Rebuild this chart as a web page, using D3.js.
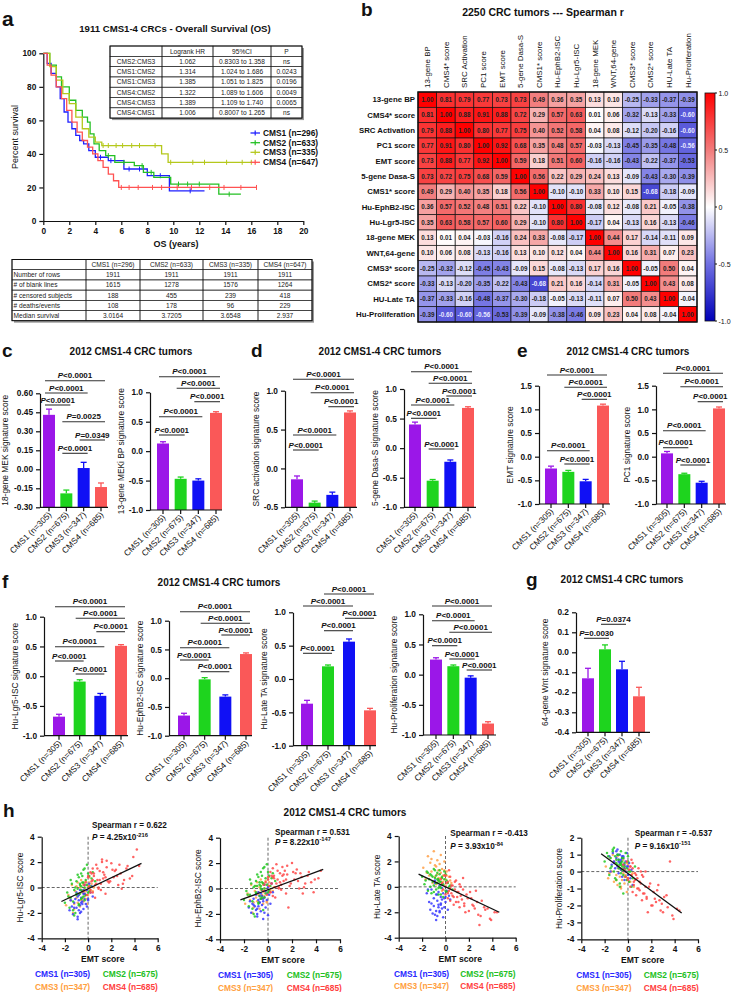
<!DOCTYPE html>
<html>
<head>
<meta charset="utf-8">
<script src="https://cdn.jsdelivr.net/npm/d3@7"></script>
<style>
body { margin: 0; background: #fff; }
svg { font-family: Arial, "Liberation Sans", sans-serif; }
</style>
</head>
<body>
<svg id="fig" width="733" height="992"></svg>
<script>
// ---------------- DATA ----------------

// a: overall survival (time in years, percent surviving)
var survNames = ["CMS1 (n=296)", "CMS2 (n=633)", "CMS3 (n=335)", "CMS4 (n=647)"];
var survTimeCMS1 = [0, 0.3, 0.6, 1.0, 1.3, 1.6, 1.9, 2.2, 2.5, 2.8, 3.1, 3.5, 4.0, 4.6, 5.0, 6.2, 8.0, 9.7, 12.4];
var survPctCMS1  = [100, 94, 88, 80, 73, 65, 59, 55, 51, 48, 46, 42, 38, 38, 36, 31, 27, 18, 18];
var survTimeCMS2 = [0, 0.5, 1.0, 1.4, 2.0, 2.5, 3.0, 3.4, 3.6, 3.9, 4.3, 4.8, 5.5, 7.0, 7.7, 8.5, 9.8, 13.5, 15.2];
var survPctCMS2  = [100, 93, 86, 80, 72, 66, 62, 59, 52, 46, 42, 39, 35, 33, 29, 26, 22, 16, 16];
var survTimeCMS3 = [0, 0.5, 1.0, 1.5, 2.0, 2.5, 3.0, 3.5, 4.0, 4.5, 9.1, 9.6, 16.0];
var survPctCMS3  = [100, 92, 84, 76, 70, 62, 55, 50, 47, 45, 40, 35, 35];
var survTimeCMS4 = [0, 0.3, 0.6, 1.0, 1.4, 1.8, 2.2, 2.6, 3.0, 3.4, 3.8, 4.2, 4.6, 5.0, 5.4, 5.8, 16.4];
var survPctCMS4  = [100, 93, 87, 80, 73, 66, 59, 53, 48, 44, 40, 36, 32, 28, 24, 20, 20];
var censorCMS1 = [4.4, 5.2, 6.6, 7.4, 9.0, 11.3];
var censorCMS2 = [5.0, 6.2, 7.6, 8.3, 10.4, 11.1, 12.0, 14.3];
var censorCMS3 = [4.6, 5.0, 5.6, 6.1, 6.8, 7.4, 8.6, 9.8, 11.5, 12.4, 14.1, 15.3, 16.0];
var censorCMS4 = [6.0, 6.6, 7.3, 8.4, 9.1, 10.3, 11.4, 12.8, 13.9, 15.2, 16.4];
var survXTicks = [0, 2, 4, 6, 8, 10, 12, 14, 16, 18, 20];
var survYTicks = [0, 20, 40, 60, 80, 100];

var hrTable = [
  ["", "Logrank HR", "95%CI", "P"],
  ["CMS2:CMS3", "1.062", "0.8303 to 1.358", "ns"],
  ["CMS1:CMS2", "1.314", "1.024 to 1.686", "0.0243"],
  ["CMS1:CMS3", "1.385", "1.051 to 1.825", "0.0196"],
  ["CMS4:CMS2", "1.322", "1.089 to 1.606", "0.0049"],
  ["CMS4:CMS3", "1.389", "1.109 to 1.740", "0.0065"],
  ["CMS4:CMS1", "1.006", "0.8007 to 1.265", "ns"]
];
var summaryTable = [
  ["", "CMS1 (n=296)", "CMS2 (n=633)", "CMS3 (n=335)", "CMS4 (n=647)"],
  ["Number of rows", "1911", "1911", "1911", "1911"],
  ["# of blank lines", "1615", "1278", "1576", "1264"],
  ["# censored subjects", "188", "455", "239", "418"],
  ["# deaths/events", "108", "178", "96", "229"],
  ["Median survival", "3.0164", "3.7205", "3.6548", "2.937"]
];

// b: Spearman correlation matrix
var sigNames = ["13-gene BP", "CMS4* score", "SRC Activation", "PC1 score", "EMT score", "5-gene Dasa-S",
  "CMS1* score", "Hu-EphB2-ISC", "Hu-Lgr5-ISC", "18-gene MEK", "WNT,64-gene", "CMS3* score",
  "CMS2* score", "HU-Late TA", "Hu-Proliferation"];
var spearman = [
  [1.00, 0.81, 0.79, 0.77, 0.73, 0.73, 0.49, 0.36, 0.35, 0.13, 0.10, -0.25, -0.33, -0.37, -0.39],
  [0.81, 1.00, 0.88, 0.91, 0.88, 0.72, 0.29, 0.57, 0.63, 0.01, 0.06, -0.32, -0.13, -0.33, -0.60],
  [0.79, 0.88, 1.00, 0.80, 0.77, 0.75, 0.40, 0.52, 0.58, 0.04, 0.08, -0.12, -0.20, -0.16, -0.60],
  [0.77, 0.91, 0.80, 1.00, 0.92, 0.68, 0.35, 0.48, 0.57, -0.03, -0.13, -0.45, -0.35, -0.48, -0.56],
  [0.73, 0.88, 0.77, 0.92, 1.00, 0.59, 0.18, 0.51, 0.60, -0.16, -0.16, -0.43, -0.22, -0.37, -0.53],
  [0.73, 0.72, 0.75, 0.68, 0.59, 1.00, 0.56, 0.22, 0.29, 0.24, 0.13, -0.09, -0.43, -0.30, -0.39],
  [0.49, 0.29, 0.40, 0.35, 0.18, 0.56, 1.00, -0.10, -0.10, 0.33, 0.10, 0.15, -0.68, -0.18, -0.09],
  [0.36, 0.57, 0.52, 0.48, 0.51, 0.22, -0.10, 1.00, 0.80, -0.08, 0.12, -0.08, 0.21, -0.05, -0.38],
  [0.35, 0.63, 0.58, 0.57, 0.60, 0.29, -0.10, 0.80, 1.00, -0.17, 0.04, -0.13, 0.16, -0.13, -0.46],
  [0.13, 0.01, 0.04, -0.03, -0.16, 0.24, 0.33, -0.08, -0.17, 1.00, 0.44, 0.17, -0.14, -0.11, 0.09],
  [0.10, 0.06, 0.08, -0.13, -0.16, 0.13, 0.10, 0.12, 0.04, 0.44, 1.00, 0.16, 0.31, 0.07, 0.23],
  [-0.25, -0.32, -0.12, -0.45, -0.43, -0.09, 0.15, -0.08, -0.13, 0.17, 0.16, 1.00, -0.05, 0.50, 0.04],
  [-0.33, -0.13, -0.20, -0.35, -0.22, -0.43, -0.68, 0.21, 0.16, -0.14, 0.31, -0.05, 1.00, 0.43, 0.08],
  [-0.37, -0.33, -0.16, -0.48, -0.37, -0.30, -0.18, -0.05, -0.13, -0.11, 0.07, 0.50, 0.43, 1.00, -0.04],
  [-0.39, -0.60, -0.60, -0.56, -0.53, -0.39, -0.09, -0.38, -0.46, 0.09, 0.23, 0.04, 0.08, -0.04, 1.00]
];
var colorbarTicks = [1, 0.5, 0, -0.5, -1];

// c-g: signature scores, mean and SEM per CMS group
var barGroups = ["CMS1 (n=305)", "CMS2 (n=675)", "CMS3 (n=347)", "CMS4 (n=685)"];
var meanMEK18 = [0.43, -0.19, 0.01, -0.14];     var semMEK18 = [0.045, 0.026, 0.045, 0.032];
var meanBP13 = [0.13, -0.47, -0.50, 0.65];      var semBP13 = [0.03, 0.03, 0.03, 0.02];
var meanSRC = [-0.14, -0.44, -0.34, 0.72];      var semSRC = [0.043, 0.02, 0.035, 0.02];
var meanDasa = [0.40, -0.55, -0.23, 0.68];      var semDasa = [0.04, 0.02, 0.03, 0.02];
var meanEMT = [-0.25, -0.32, -0.52, 1.08];      var semEMT = [0.05, 0.03, 0.04, 0.03];
var meanPC1 = [0.07, -0.37, -0.55, 1.02];       var semPC1 = [0.04, 0.02, 0.03, 0.03];
var meanLgr5 = [-0.68, -0.09, -0.33, 0.51];     var semLgr5 = [0.04, 0.03, 0.04, 0.02];
var meanEphB2 = [-0.65, -0.02, -0.32, 0.42];    var semEphB2 = [0.04, 0.03, 0.03, 0.02];
var meanLateTA = [-0.37, 0.19, 0.56, -0.47];    var semLateTA = [0.05, 0.02, 0.04, 0.03];
var meanProlif = [0.25, 0.14, -0.05, -0.81];    var semProlif = [0.03, 0.02, 0.03, 0.03];
var meanWnt = [-0.13, 0.015, -0.085, -0.22];    var semWnt = [0.05, 0.022, 0.04, 0.045];

// pairwise comparisons [groupA, groupB, p label], listed top bracket first
var compMEK18 = [[0, 3, "<0.0001"], [0, 2, "<0.0001"], [0, 1, "<0.0001"], [1, 3, "=0.0025"], [2, 3, "=0.0349"], [1, 2, "<0.0001"]];
var compBP13 = [[0, 3, "<0.0001"], [1, 3, "<0.0001"], [2, 3, "<0.0001"], [0, 2, "<0.0001"], [0, 1, "<0.0001"]];
var compSRC = [[0, 3, "<0.0001"], [1, 3, "<0.0001"], [2, 3, "<0.0001"], [0, 2, "<0.0001"], [0, 1, "<0.0001"]];
var compDasa = [[0, 3, "<0.0001"], [1, 3, "<0.0001"], [2, 3, "<0.0001"], [0, 2, "<0.0001"], [0, 1, "<0.0001"], [1, 2, "<0.0001"]];
var compEMT = [[0, 3, "<0.0001"], [1, 3, "<0.0001"], [2, 3, "<0.0001"], [0, 2, "<0.0001"], [1, 2, "<0.0001"]];
var compPC1 = [[0, 3, "<0.0001"], [1, 3, "<0.0001"], [2, 3, "<0.0001"], [0, 2, "<0.0001"], [0, 1, "<0.0001"], [1, 2, "<0.0001"]];
var compLgr5 = [[0, 3, "<0.0001"], [1, 3, "<0.0001"], [2, 3, "<0.0001"], [0, 2, "<0.0001"], [0, 1, "<0.0001"], [1, 2, "<0.0001"]];
var compEphB2 = [[0, 3, "<0.0001"], [1, 3, "<0.0001"], [2, 3, "<0.0001"], [0, 2, "<0.0001"], [0, 1, "<0.0001"], [1, 2, "<0.0001"]];
var compLateTA = [[1, 3, "<0.0001"], [0, 2, "<0.0001"], [2, 3, "<0.0001"], [1, 2, "<0.0001"], [0, 1, "<0.0001"]];
var compProlif = [[0, 3, "<0.0001"], [0, 2, "<0.0001"], [1, 3, "<0.0001"], [0, 1, "<0.0001"], [1, 2, "<0.0001"], [2, 3, "<0.0001"]];
var compWnt = [[1, 2, "=0.0374"], [0, 1, "=0.0030"]];

var ticksMEK18 = [-0.30, -0.15, 0, 0.15, 0.30, 0.45, 0.60];
var ticksOne = [-1, -0.5, 0, 0.5, 1];
var ticksSRC = [-0.5, 0, 0.5, 1];
var ticksOneHalf = [-1, -0.5, 0, 0.5, 1, 1.5];
var ticksWnt = [-0.4, -0.3, -0.2, -0.1, 0, 0.1, 0.2];

// h: per-tumor scores (same tumors, EMT score on x in every plot)
var emtCMS1 = [-1.6, -1.4, -1.3, -1.2, -1.1, -1.0, -1.0, -0.9, -0.8, -0.8, -0.7, -0.7, -0.6, -0.6, -0.5, -0.5, -0.4, -0.4, -0.3, -0.3, -0.2, -0.2, -0.1, 0.0, 0.1, 0.2, 0.3, 0.4, -0.9, -0.6,
  -1.2, -0.9, -0.7, -0.5, -0.3, -0.1, -1.5, -0.8, -0.4, 0.0];
var lgr5CMS1 = [-1.8, -1.5, -2.1, -1.2, -0.9, -1.6, -0.4, -2.3, -1.0, -0.6, -1.4, -0.2, -1.9, -0.8, -1.1, -0.3, -1.7, -0.5, -0.9, 0.2, -1.3, -0.6, -0.2, -1.0, 0.3, -0.4, 0.1, -0.7, -2.5, -1.2,
  -1.6, -0.7, -2.0, -1.3, -0.5, -1.5, -1.0, -1.8, -0.2, -0.9];
var ephb2CMS1 = [-1.5, -1.9, -1.2, -0.8, -1.4, -0.5, -1.7, -2.2, -0.9, -0.3, -1.1, -0.6, -1.8, -0.4, -1.3, -0.1, -1.0, -2.4, -0.7, 0.3, -1.5, -0.2, -0.9, 0.1, -0.5, -1.2, 0.4, -0.3, -1.6, -0.8,
  -1.3, -2.0, -1.1, -0.6, -1.9, -0.4, -1.0, -1.4, -0.8, -2.1];
var lateTaCMS1 = [-0.5, -1.2, -1.8, -0.2, -2.1, -0.9, -1.5, 0.3, -1.9, -0.6, -2.3, -1.1, -0.4, -1.6, 0.1, -2.0, -0.8, -1.3, -0.1, -1.7, -0.5, -2.4, -0.9, -1.2, -0.3, -1.8, -0.7, -1.0, 0.5, -1.4,
  -1.3, -2.2, -0.6, -1.9, -1.0, -1.6, -0.2, -2.6, -1.4, -0.8];
var prolifCMS1 = [0.9, 0.4, 1.1, 0.6, 0.2, 0.8, 1.2, 0.3, 0.7, -0.1, 0.5, 1.0, 0.1, 0.6, 0.9, -0.3, 0.4, 0.8, 0.2, -0.5, 0.6, 0.0, 0.3, -0.2, 0.5, -0.4, 0.1, -0.8, 1.3, 0.7,
  0.5, 1.0, 0.2, 0.8, 0.4, 1.1, 0.0, 0.6, 0.9, 0.3];

var emtCMS2 = [-2.0, -1.8, -1.6, -1.5, -1.4, -1.3, -1.2, -1.1, -1.0, -1.0, -0.9, -0.8, -0.8, -0.7, -0.7, -0.6, -0.6, -0.5, -0.5, -0.4, -0.4, -0.3, -0.3, -0.2, -0.1, 0.0, 0.1, 0.2, 0.4, 0.6,
  -1.7, -1.5, -1.3, -1.1, -1.0, -0.9, -0.8, -0.7, -0.6, -0.5, -0.5, -0.4, -0.3, -0.2, -0.1, 0.0, 0.1, 0.3, -1.2, -0.6];
var lgr5CMS2 = [-1.2, -0.4, -1.6, -0.8, 0.3, -1.1, -0.2, -2.0, 0.5, -0.6, -0.1, -1.3, 0.8, -0.5, 0.2, -0.9, 1.1, -0.3, 0.4, -0.7, 1.4, 0.0, -1.0, 0.6, 1.8, -0.4, 0.9, 0.1, 1.2, 0.5,
  -0.7, 0.6, -1.8, 0.0, -0.5, 1.0, -1.4, 0.3, -0.2, 0.9, -0.8, 0.4, 1.5, -0.6, 0.2, 1.1, -0.3, 0.7, -2.2, 0.1];
var ephb2CMS2 = [-0.9, -0.2, -1.4, -0.5, 0.4, -1.0, 0.1, -2.2, 0.6, -0.4, 0.2, -1.2, 0.9, -0.6, 0.3, -0.8, 1.3, -0.1, 0.5, -1.7, 1.6, 0.0, -0.7, 0.8, 1.9, -0.3, 1.0, 0.2, 1.2, 0.6,
  -0.5, 0.7, -1.6, 0.2, -0.3, 1.1, -1.1, 0.5, 0.0, 1.0, -0.7, 0.4, 1.7, -0.4, 0.3, 1.3, -0.2, 0.8, -2.0, 0.2];
var lateTaCMS2 = [0.8, 0.2, 1.2, -0.3, 0.6, 1.0, -0.5, 0.4, 1.4, 0.1, 0.7, -0.2, 0.9, 0.3, 1.1, -0.6, 0.5, 0.0, 1.3, 0.4, -0.1, 0.8, 0.2, -0.8, 0.6, 1.0, -0.4, 0.3, 0.1, -0.2,
  0.5, 1.1, 0.0, 0.8, -0.4, 1.3, 0.3, 0.6, -0.1, 1.0, 0.4, -0.6, 0.7, 0.2, 1.2, -0.3, 0.5, 0.0, 0.9, 0.6];
var prolifCMS2 = [0.6, 1.1, -0.2, 0.8, 0.3, 1.3, 0.0, 0.9, 0.5, -0.5, 1.0, 0.2, 0.7, -0.9, 0.4, 1.2, -0.1, 0.6, 0.3, -1.3, 0.8, 0.1, 0.5, -0.3, 0.2, 0.9, -0.6, 0.0, -0.4, 0.3,
  0.9, 0.2, 1.2, -0.4, 0.7, 0.4, 1.0, -0.7, 0.5, 0.1, 0.8, -0.2, 0.3, 1.1, -0.5, 0.6, 0.0, -0.9, 1.4, 0.4];

var emtCMS3 = [-1.9, -1.7, -1.5, -1.4, -1.2, -1.1, -1.0, -0.9, -0.9, -0.8, -0.7, -0.7, -0.6, -0.6, -0.5, -0.5, -0.4, -0.4, -0.3, -0.3, -0.2, -0.2, -0.1, 0.0, 0.0, 0.1, 0.2, 0.3, 0.5, -1.3,
  -1.6, -1.2, -1.0, -0.8, -0.6, -0.4, -0.3, -0.1, 0.1, 0.4];
var lgr5CMS3 = [-1.4, -0.6, -1.0, 0.2, -1.7, -0.3, -0.8, 0.4, -1.2, -0.5, 0.0, -1.5, -0.2, 0.6, -0.9, -0.4, 0.3, -1.1, -0.1, -0.7, 0.5, -0.3, -1.3, 0.1, -0.6, 0.8, -0.2, 0.3, 0.0, -2.0,
  -0.8, -1.3, 0.1, -0.6, -1.0, 0.2, -0.5, -0.9, 0.4, -0.3];
var ephb2CMS3 = [-1.2, -0.4, -0.9, 0.3, -1.5, -0.2, -0.7, 0.5, -1.0, -0.3, 0.1, -1.6, -0.1, 0.7, -0.8, -0.5, 0.4, -1.2, 0.0, -0.6, 0.6, -0.2, -1.1, 0.2, -0.4, 0.9, -0.1, 0.4, 0.1, -1.9,
  -0.6, -1.1, 0.2, -0.5, -0.8, 0.3, -0.3, -1.0, 0.5, -0.2];
var lateTaCMS3 = [1.5, 0.6, 2.4, 0.9, 1.2, 0.3, 2.8, 0.8, 1.7, 0.2, 1.0, 2.1, 0.5, 1.3, 0.0, 1.8, 0.7, 1.1, -0.3, 1.4, 0.4, 0.9, 2.0, 0.1, 0.6, 1.2, -0.4, 0.8, 0.3, 1.9,
  1.1, 2.2, 0.4, 1.6, 0.7, 2.5, 0.2, 1.3, 0.9, 0.5];
var prolifCMS3 = [0.3, -0.4, 0.8, 0.0, -0.6, 0.5, -0.2, 0.9, -0.8, 0.2, -0.3, 0.6, -1.0, 0.1, 0.4, -0.5, 0.7, -0.1, -0.7, 0.3, -0.2, 0.0, -1.2, 0.4, -0.4, 0.1, -0.6, -0.2, -0.9, 1.0,
  -0.1, 0.6, -0.5, 0.3, -0.9, 0.2, -0.3, 0.5, -0.6, -0.1];

var emtCMS4 = [-0.4, -0.2, -0.1, 0.0, 0.1, 0.2, 0.2, 0.3, 0.4, 0.4, 0.5, 0.6, 0.7, 0.8, 0.9, 1.0, 1.1, 1.2, 1.3, 1.4, 1.5, 1.6, 1.8, 2.0, 2.2, 2.4, 2.6, 2.8, 3.1, 3.4, 3.8, 4.2, 0.3, 0.6, 0.9, 1.2, 1.7, 2.3, 2.9, 3.6,
  -0.3, 0.0, 0.2, 0.5, 0.7, 0.8, 1.0, 1.1, 1.3, 1.5, 1.6, 1.9, 2.1, 2.5, 2.7, 3.0, 3.3, 3.9, 4.4, 0.4];
var lgr5CMS4 = [-0.3, 0.4, -0.6, 0.8, 0.1, 1.2, -0.2, 0.5, 1.5, -0.4, 0.9, 0.2, 1.8, 0.6, -0.1, 1.3, 0.3, 2.0, 0.7, 1.0, -0.5, 1.6, 0.4, 1.9, 0.8, 1.4, 0.2, 1.1, 0.6, 1.7, 0.9, 3.0, 1.1, -0.8, 0.0, 2.2, 0.5, 1.3, -0.1, 0.7,
  0.2, 0.9, -0.4, 1.1, 0.3, 1.5, 0.6, -0.2, 1.2, 0.8, 2.1, 0.5, 1.4, 0.9, 1.8, 0.3, 1.5, 2.4, 1.7, 0.6];
var ephb2CMS4 = [-0.2, 0.5, -0.5, 0.9, 0.2, 1.3, -0.3, 0.4, 1.6, -0.6, 0.8, 0.1, 1.9, 0.7, 0.0, 1.2, 0.3, 1.0, 0.6, 1.4, -0.4, 1.1, 0.2, 2.0, 0.7, 1.5, 0.0, 0.9, 0.4, 1.3, -0.3, 0.8, 1.0, -0.7, 0.1, 1.7, -1.5, 1.2, -0.4, 0.5,
  0.3, 0.7, -0.3, 1.0, 0.4, 1.4, 0.5, -0.1, 1.1, 0.7, 1.8, 0.4, 1.3, 0.6, 1.2, 0.1, 1.0, 0.7, 1.4, 0.9];
var lateTaCMS4 = [0.6, -0.2, 0.9, -0.6, 0.3, -0.9, 0.4, -0.3, -1.1, 0.8, -0.5, 0.1, -1.4, -0.2, 0.5, -0.8, -0.4, -1.6, 0.0, -1.0, 0.7, -1.3, -0.6, -1.9, -0.9, -1.5, -0.3, -2.2, -1.1, -1.8, -2.5, -2.0, 1.3, -0.7, -1.2, 0.2, -2.0, -1.4, -3.0, -1.7,
  0.3, 0.9, -0.5, 0.1, -0.8, 0.4, -0.4, -1.2, -0.7, -0.2, -1.5, -0.9, -0.4, -1.7, -1.2, -2.3, -1.6, -2.6, -2.0, -0.1];
var prolifCMS4 = [0.4, -0.3, 0.6, -0.5, 0.1, -0.9, 0.3, -0.2, -1.2, 0.5, -0.6, -0.1, -1.4, -0.4, 0.2, -1.1, -0.7, -1.7, -0.3, -1.3, 0.0, -1.6, -0.9, -2.0, -1.2, -1.8, -0.8, -2.3, -1.5, -2.1, -2.6, -2.2, 0.7, -0.5, -1.0, -0.2, -2.4, -1.6, -1.9, 0.6,
  0.1, -0.4, 0.3, -0.8, -0.2, -1.0, -0.6, 0.0, -1.3, -0.9, -1.5, -0.7, -2.0, -1.1, -1.7, -2.4, -1.4, -2.8, -2.3, 0.2];

// regression line endpoints [[x, y], [x, y]]
var fitLgr5 = [[-2.3, -1.1], [4.6, 1.9]];
var fitEphB2 = [[-2.3, -0.9], [4.6, 1.5]];
var fitLateTA = [[-2.3, 1.0], [4.6, -2.0]];
var fitProlif = [[-2.3, 1.05], [4.6, -2.45]];
var scatterLegend = ["CMS1 (n=305)", "CMS2 (n=675)", "CMS3 (n=347)", "CMS4 (n=685)"];
var emtTicks = [-4, -2, 0, 2, 4, 6];
var scoreTicks = [-4, -2, 0, 2, 4];
var prolifTicks = [-4, -3, -2, -1, 0, 1, 2];

// ---------------- DRAWING ----------------
var FONT = "Arial, 'Liberation Sans', sans-serif";
var barColors = ["#9b17e8", "#1ed41e", "#1010f5", "#fa5858"];
var survColors = ["#1f1fff", "#23c023", "#b5c81c", "#ff5252"];
var dotColors = ["#3a3aff", "#22c822", "#ffa048", "#ff4848"];
var legendColors = ["#2828ff", "#22c022", "#ffa040", "#ff4040"];

var svg = d3.select("#fig");

function minusFmt(f) {
    var ff = d3.format(f);
    return function(d) { return ff(d).replace("\u2212", "-"); };
}

function styleAxis(sel, fs) {
    sel.attr("font-family", FONT).attr("font-size", fs || 8.3).attr("font-weight", "bold");
    sel.selectAll("path, line").attr("stroke", "#111").attr("stroke-width", 1.2);
    sel.selectAll("text").attr("fill", "#111");
}

function addText(t, x, y, size, weight, anchor) {
    return svg.append("text").attr("x", x).attr("y", y)
        .attr("font-size", size).attr("font-weight", weight || "normal")
        .attr("text-anchor", anchor || "start").attr("fill", "#111").text(t);
}

function vLabel(t, x, y, size) {
    svg.append("text").attr("transform", "translate(" + x + "," + y + ") rotate(-90)")
        .attr("text-anchor", "middle").attr("font-size", size).attr("fill", "#111").text(t);
}

// panel letters + titles
addText("a", 2, 26, 21, "bold");
addText("b", 361, 16, 19, "bold");
addText("c", 2, 357, 19, "bold");
addText("d", 251, 357, 19, "bold");
addText("e", 517, 357, 19, "bold");
addText("f", 2, 588, 19, "bold");
addText("g", 526, 586, 19, "bold");
addText("h", 3, 817, 19, "bold");
addText("1911 CMS1-4 CRCs - Overall Survival (OS)", 175, 32, 9.6, "bold", "middle");
addText("2250 CRC tumors --- Spearman r", 543, 16, 10.5, "bold", "middle");
addText("2012 CMS1-4 CRC tumors", 131, 355, 10, "bold", "middle");
addText("2012 CMS1-4 CRC tumors", 380, 355, 10, "bold", "middle");
addText("2012 CMS1-4 CRC tumors", 628, 355, 10, "bold", "middle");
addText("2012 CMS1-4 CRC tumors", 219, 586, 10, "bold", "middle");
addText("2012 CMS1-4 CRC tumors", 622, 583, 10, "bold", "middle");
addText("2012 CMS1-4 CRC tumors", 345, 816, 10, "bold", "middle");

// ---- a: Kaplan-Meier ----
(function() {
    var sx = d3.scaleLinear().domain([0, 20]).range([43.3, 303.3]);
    var sy = d3.scaleLinear().domain([0, 100]).range([221, 53.3]);
    var times = [survTimeCMS1, survTimeCMS2, survTimeCMS3, survTimeCMS4];
    var pcts = [survPctCMS1, survPctCMS2, survPctCMS3, survPctCMS4];
    var censors = [censorCMS1, censorCMS2, censorCMS3, censorCMS4];

    svg.append("g").attr("transform", "translate(43.3,0)")
        .call(d3.axisLeft(sy).tickValues(survYTicks).tickSize(4).tickSizeOuter(0)).call(styleAxis);
    svg.append("g").attr("transform", "translate(0,221)")
        .call(d3.axisBottom(sx).tickValues(survXTicks).tickSize(4).tickSizeOuter(0)).call(styleAxis);
    vLabel("Percent survival", 18, 137, 9);
    addText("OS (years)", 176, 247, 9, "bold", "middle");

    var line = d3.line().curve(d3.curveStepAfter).x(function(d) { return sx(d[0]); }).y(function(d) { return sy(d[1]); });
    for (var k = 0; k < 4; k++) {
        var pts = d3.zip(times[k], pcts[k]);
        svg.append("path").datum(pts).attr("d", line).attr("fill", "none")
            .attr("stroke", survColors[k]).attr("stroke-width", 1.3);
        // censor marks sit on the step curve
        var tk = times[k], pk = pcts[k];
        svg.append("g").selectAll("line").data(censors[k]).join("line")
            .attr("x1", function(d) { return sx(d); }).attr("x2", function(d) { return sx(d); })
            .attr("y1", function(d) { var i = d3.bisectRight(tk, d) - 1; return sy(pk[i]) - 2.5; })
            .attr("y2", function(d) { var i = d3.bisectRight(tk, d) - 1; return sy(pk[i]) + 2.5; })
            .attr("stroke", survColors[k]).attr("stroke-width", 1);
    }

    // legend
    var ly = [133, 142.7, 152.3, 162.3];
    survNames.forEach(function(n, i) {
        svg.append("line").attr("x1", 250.5).attr("x2", 260).attr("y1", ly[i]).attr("y2", ly[i])
            .attr("stroke", survColors[i]).attr("stroke-width", 1.3);
        svg.append("line").attr("x1", 255.2).attr("x2", 255.2).attr("y1", ly[i] - 2.5).attr("y2", ly[i] + 2.5)
            .attr("stroke", survColors[i]).attr("stroke-width", 1.2);
        addText(n, 263, ly[i] + 3, 8.4, "bold");
    });
})();

function drawTable(rows, colX, y0, rh, fs, leftFirst) {
    var g = svg.append("g");
    var w = colX[colX.length - 1] - colX[0], h = rows.length * rh;
    g.append("rect").attr("x", colX[0] + 2).attr("y", y0 + 2).attr("width", w).attr("height", h).attr("fill", "#9a9a9a");
    g.append("rect").attr("x", colX[0]).attr("y", y0).attr("width", w).attr("height", h).attr("fill", "#fff");
    rows.forEach(function(r, i) {
        r.forEach(function(c, j) {
            g.append("rect").attr("x", colX[j]).attr("y", y0 + i * rh)
                .attr("width", colX[j + 1] - colX[j]).attr("height", rh)
                .attr("fill", "none").attr("stroke", "#222").attr("stroke-width", 0.6);
            var left = leftFirst && j === 0;
            g.append("text").attr("x", left ? colX[j] + 1.5 : (colX[j] + colX[j + 1]) / 2)
                .attr("y", y0 + i * rh + rh / 2 + fs * 0.36)
                .attr("text-anchor", left ? "start" : "middle")
                .attr("font-size", fs).attr("fill", "#222").text(c);
        });
    });
    g.append("rect").attr("x", colX[0]).attr("y", y0).attr("width", w).attr("height", h)
        .attr("fill", "none").attr("stroke", "#111").attr("stroke-width", 1);
}
drawTable(hrTable, [110, 162, 213, 271, 302], 46, 10.3, 6.6, false);
drawTable(summaryTable, [12, 86, 140, 203, 258, 312], 259.5, 10.2, 6.6, true);

// ---- b: heatmap ----
(function() {
    var hx = d3.scaleBand().domain(d3.range(sigNames.length)).range([418, 697]);
    var hy = d3.scaleBand().domain(d3.range(sigNames.length)).range([92, 322]);
    var col = d3.scaleLinear().domain([-1, -0.5, 0, 0.5, 1])
        .range(["#0000b8", "#7070e2", "#ffffff", "#f27b7b", "#ff0000"]);
    var g = svg.append("g");
    spearman.forEach(function(row, i) {
        g.selectAll(null).data(row).join("rect")
            .attr("x", function(d, j) { return hx(j); }).attr("y", hy(i))
            .attr("width", hx.bandwidth()).attr("height", hy.bandwidth())
            .attr("fill", function(d) { return col(d); })
            .attr("stroke", "#111").attr("stroke-width", 0.7);
        g.selectAll(null).data(row).join("text")
            .attr("x", function(d, j) { return hx(j) + hx.bandwidth() / 2; })
            .attr("y", hy(i) + hy.bandwidth() / 2 + 2.3)
            .attr("text-anchor", "middle").attr("font-size", 6.3).attr("font-weight", "bold")
            .attr("fill", function(d) { return d < -0.55 ? "#e8e8ff" : "#222"; })
            .text(function(d) { return d.toFixed(2); });
    });
    g.append("rect").attr("x", 418).attr("y", 92).attr("width", 279).attr("height", 230)
        .attr("fill", "none").attr("stroke", "#111").attr("stroke-width", 1.4);
    sigNames.forEach(function(n, i) {
        addText(n, 415, hy(i) + hy.bandwidth() / 2 + 2.8, 7.8, "bold", "end");
        svg.append("text").attr("transform", "translate(" + (hx(i) + hx.bandwidth() / 2 + 2.9) + ",88) rotate(-90)")
            .attr("font-size", 7.9).attr("fill", "#111").text(n);
    });

    // colour bar
    var defs = svg.append("defs");
    var grad = defs.append("linearGradient").attr("id", "cbar").attr("x1", 0).attr("x2", 0).attr("y1", 0).attr("y2", 1);
    [1, 0.5, 0, -0.5, -1].forEach(function(v, i) {
        grad.append("stop").attr("offset", (i * 25) + "%").attr("stop-color", col(v));
    });
    var cy = d3.scaleLinear().domain([-1, 1]).range([321, 93]);
    svg.append("rect").attr("x", 705).attr("y", 93).attr("width", 10).attr("height", 228)
        .attr("fill", "url(#cbar)").attr("stroke", "#111").attr("stroke-width", 0.8);
    colorbarTicks.forEach(function(v) {
        svg.append("line").attr("x1", 715).attr("x2", 717).attr("y1", cy(v)).attr("y2", cy(v)).attr("stroke", "#111");
        addText(v === 0 ? "0" : minusFmt(".1f")(v), 718.5, cy(v) + 2.5, 7, "normal");
    });
})();

// ---- c-g: bar charts ----
function barChart(o) {
    var g = svg.append("g");
    var y = d3.scaleLinear().domain(o.domain).range([o.yBot, o.yTop]);
    var x = d3.scalePoint().domain(d3.range(4)).range([o.c0, o.c3]);
    var bw = 12;
    g.selectAll("rect").data(o.mean).join("rect")
        .attr("x", function(d, i) { return x(i) - bw / 2; }).attr("width", bw)
        .attr("y", function(d) { return y(d); })
        .attr("height", function(d) { return o.yBot - y(d); })
        .attr("fill", function(d, i) { return barColors[i]; });
    o.mean.forEach(function(m, i) {
        var top = y(m + o.sem[i]);
        g.append("line").attr("x1", x(i)).attr("x2", x(i)).attr("y1", y(m)).attr("y2", top)
            .attr("stroke", barColors[i]).attr("stroke-width", 1.3);
        g.append("line").attr("x1", x(i) - 3).attr("x2", x(i) + 3).attr("y1", top).attr("y2", top)
            .attr("stroke", barColors[i]).attr("stroke-width", 1.3);
    });
    svg.append("g").attr("transform", "translate(" + o.ax + ",0)")
        .call(d3.axisLeft(y).tickValues(o.ticks).tickFormat(minusFmt(o.fmt)).tickSize(4).tickSizeOuter(0))
        .call(styleAxis);
    g.append("line").attr("x1", o.ax).attr("x2", o.end).attr("y1", o.yBot).attr("y2", o.yBot)
        .attr("stroke", "#111").attr("stroke-width", 1.2);
    barGroups.forEach(function(n, i) {
        g.append("line").attr("x1", x(i)).attr("x2", x(i)).attr("y1", o.yBot).attr("y2", o.yBot + 4)
            .attr("stroke", "#111").attr("stroke-width", 1.2);
        g.append("text").attr("transform", "translate(" + (x(i) + 3) + "," + (o.yBot + 8) + ") rotate(-45)")
            .attr("text-anchor", "end").attr("font-size", 8.4).attr("fill", "#111").text(n);
    });
    vLabel(o.label, o.ax + o.lab, (o.yTop + o.yBot) / 2, 8.4);
    o.comp.forEach(function(c, k) {
        var yy = o.by[k], xa = x(c[0]) - 4, xb = x(c[1]) + 4;
        g.append("line").attr("x1", xa).attr("x2", xb).attr("y1", yy).attr("y2", yy)
            .attr("stroke", "#333").attr("stroke-width", 1.1);
        var t = g.append("text").attr("x", (xa + xb) / 2).attr("y", yy - 2.3)
            .attr("text-anchor", "middle").attr("font-size", 8).attr("font-weight", "bold").attr("fill", "#111");
        t.append("tspan").attr("font-style", "italic").text("P");
        t.append("tspan").text(c[2]);
    });
}

var barLayouts = [
    {mean: meanMEK18, sem: semMEK18, comp: compMEK18, ticks: ticksMEK18, fmt: ".2f", domain: [-0.30, 0.60], label: "18-gene MEK signature score",
     ax: 40, c0: 49, c3: 101, end: 108, yTop: 393.3, yBot: 507.3, lab: -32, by: [380.7, 393, 405, 421.7, 440, 453.3]},
    {mean: meanBP13, sem: semBP13, comp: compBP13, ticks: ticksOne, fmt: ".1f", domain: [-1, 1], label: "13-gene MEKi BP signature score",
     ax: 150, c0: 163, c3: 216, end: 222, yTop: 392.3, yBot: 510, lab: -26, by: [376.7, 388.3, 401.7, 416.7, 435]},
    {mean: meanSRC, sem: semSRC, comp: compSRC, ticks: ticksSRC, fmt: ".1f", domain: [-0.5, 1], label: "SRC activation signature score",
     ax: 285, c0: 297, c3: 350, end: 357, yTop: 390.7, yBot: 507.3, lab: -26, by: [379.3, 392.7, 406.7, 435, 450]},
    {mean: meanDasa, sem: semDasa, comp: compDasa, ticks: ticksOne, fmt: ".1f", domain: [-1, 1], label: "5-gene Dasa-S signature score",
     ax: 404, c0: 415, c3: 468, end: 476, yTop: 389, yBot: 507.3, lab: -26, by: [371.7, 383.3, 396, 405, 418.3, 449]},
    {mean: meanEMT, sem: semEMT, comp: compEMT, ticks: ticksOneHalf, fmt: ".1f", domain: [-1, 1.5], label: "EMT signature score",
     ax: 539, c0: 551, c3: 603, end: 610, yTop: 385.7, yBot: 504, lab: -26, by: [375, 387.3, 399.3, 450.7, 464]},
    {mean: meanPC1, sem: semPC1, comp: compPC1, ticks: ticksOneHalf, fmt: ".1f", domain: [-1, 1.5], label: "PC1 signature score",
     ax: 656, c0: 667, c3: 719, end: 726, yTop: 385.7, yBot: 504, lab: -26, by: [373.3, 386.7, 401.7, 430.7, 447.7, 465]},
    {mean: meanLgr5, sem: semLgr5, comp: compLgr5, ticks: ticksOne, fmt: ".1f", domain: [-1, 1], label: "Hu-Lgr5-ISC signature score",
     ax: 44, c0: 59, c3: 121, end: 128, yTop: 616.7, yBot: 735.7, lab: -26, by: [606.7, 618.3, 631.7, 646.7, 661, 674]},
    {mean: meanEphB2, sem: semEphB2, comp: compEphB2, ticks: ticksOne, fmt: ".1f", domain: [-1, 1], label: "Hu-EphB2-ISC signature score",
     ax: 169, c0: 184, c3: 246, end: 252, yTop: 620.7, yBot: 735.7, lab: -26, by: [611.7, 623.3, 635, 647.7, 660, 671.7]},
    {mean: meanLateTA, sem: semLateTA, comp: compLateTA, ticks: ticksOne, fmt: ".1f", domain: [-1, 1], label: "Hu-Late TA signature score",
     ax: 293, c0: 307, c3: 370, end: 376, yTop: 612.3, yBot: 745.7, lab: -26, by: [594, 606, 618.3, 630.7, 653.3]},
    {mean: meanProlif, sem: semProlif, comp: compProlif, ticks: ticksOne, fmt: ".1f", domain: [-1, 1], label: "Hu-Proliferation signature score",
     ax: 423, c0: 436, c3: 488, end: 496, yTop: 614.3, yBot: 735, lab: -26, by: [606, 620.7, 632.3, 645.7, 659, 670]},
    {mean: meanWnt, sem: semWnt, comp: compWnt, ticks: ticksWnt, fmt: ".1f", domain: [-0.4, 0.2], label: "64-gene Wnt signature score",
     ax: 576, c0: 588, c3: 639, end: 650, yTop: 612.3, yBot: 732.3, lab: -28, by: [624.3, 638.3]}
];
barLayouts.forEach(barChart);

// ---- h: scatter plots ----
function scatter(o) {
    var x = d3.scaleLinear().domain([-4, 6]).range([o.x0, o.x1]);
    var y = d3.scaleLinear().domain(o.yDom).range([o.yB, o.yT]);
    var g = svg.append("g");
    g.append("line").attr("x1", x(0)).attr("x2", x(0)).attr("y1", o.yT).attr("y2", o.yB)
        .attr("stroke", "#555").attr("stroke-dasharray", "3,2").attr("stroke-width", 0.9);
    g.append("line").attr("x1", o.x0).attr("x2", o.x1).attr("y1", y(0)).attr("y2", y(0))
        .attr("stroke", "#555").attr("stroke-dasharray", "3,2").attr("stroke-width", 0.9);
    var emts = [emtCMS1, emtCMS2, emtCMS3, emtCMS4];
    var order = [2, 0, 1, 3];
    order.forEach(function(gi) {
        var pts = d3.zip(emts[gi], o.ys[gi]);
        g.selectAll(null).data(pts).join("circle")
            .attr("cx", function(d) { return x(d[0]); }).attr("cy", function(d) { return y(d[1]); })
            .attr("r", 1.25).attr("fill", dotColors[gi]).attr("opacity", 0.85);
    });
    g.append("line").attr("x1", x(o.fit[0][0])).attr("y1", y(o.fit[0][1]))
        .attr("x2", x(o.fit[1][0])).attr("y2", y(o.fit[1][1])).attr("stroke", "#111").attr("stroke-width", 1.3);
    svg.append("g").attr("transform", "translate(" + o.x0 + ",0)")
        .call(d3.axisLeft(y).tickValues(o.yTicks).tickFormat(minusFmt("d")).tickSize(4).tickSizeOuter(0)).call(styleAxis);
    svg.append("g").attr("transform", "translate(0," + o.yB + ")")
        .call(d3.axisBottom(x).tickValues(emtTicks).tickFormat(minusFmt("d")).tickSize(4).tickSizeOuter(0)).call(styleAxis);
    vLabel(o.label, o.x0 - 19, (o.yT + o.yB) / 2, 8.4);
    addText("EMT score", (o.x0 + o.x1) / 2 + 3, o.yB + 24, 8.6, "bold", "middle");
    addText("Spearman r = " + o.r, o.tx, o.ty, 8.2, "bold");
    var t = svg.append("text").attr("x", o.tx).attr("y", o.ty + o.dy).attr("font-size", 8.2)
        .attr("font-weight", "bold").attr("fill", "#111");
    t.append("tspan").attr("font-style", "italic").text("P");
    t.append("tspan").text(" = " + o.p[0] + "x10");
    t.append("tspan").attr("font-size", 5.8).attr("dy", -3.5).text(o.p[1]);
    var lx = [o.lx0, o.lx1, o.lx0, o.lx1], lyy = [o.yB + 39, o.yB + 39, o.yB + 51.5, o.yB + 51.5];
    scatterLegend.forEach(function(n, i) {
        addText(n, lx[i], lyy[i], 8.4, "bold").attr("fill", legendColors[i]);
    });
}

scatter({label: "Hu-Lgr5-ISC score", ys: [lgr5CMS1, lgr5CMS2, lgr5CMS3, lgr5CMS4], fit: fitLgr5, r: "0.622", p: ["4.25", "-216"],
    yDom: [-4, 4], yTicks: scoreTicks, x0: 41.7, x1: 157.7, yT: 836.7, yB: 938.3, tx: 92, ty: 828, dy: 12, lx0: 35, lx1: 102.7});
scatter({label: "Hu-EphB2-ISC score", ys: [ephb2CMS1, ephb2CMS2, ephb2CMS3, ephb2CMS4], fit: fitEphB2, r: "0.531", p: ["8.22", "-147"],
    yDom: [-4, 4], yTicks: scoreTicks, x0: 220, x1: 340, yT: 837.7, yB: 939.3, tx: 275, ty: 834.5, dy: 10, lx0: 218, lx1: 286.7});
scatter({label: "Hu-Late TA score", ys: [lateTaCMS1, lateTaCMS2, lateTaCMS3, lateTaCMS4], fit: fitLateTA, r: "-0.413", p: ["3.93", "-84"],
    yDom: [-4, 4], yTicks: scoreTicks, x0: 398.7, x1: 515.7, yT: 836, yB: 937.7, tx: 450.3, ty: 836, dy: 13, lx0: 394, lx1: 460.3});
scatter({label: "Hu-Proliferation score", ys: [prolifCMS1, prolifCMS2, prolifCMS3, prolifCMS4], fit: fitProlif, r: "-0.537", p: ["9.16", "-151"],
    yDom: [-4, 2], yTicks: prolifTicks, x0: 581.3, x1: 698, yT: 837.7, yB: 939.3, tx: 634.7, ty: 835.5, dy: 13, lx0: 576.3, lx1: 643.7});
</script>
</body>
</html>
